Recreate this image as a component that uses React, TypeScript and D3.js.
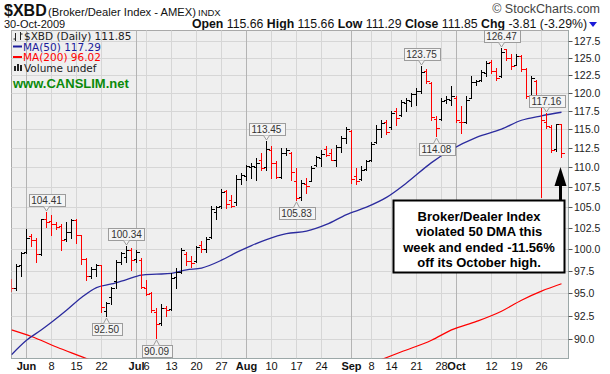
import React from "react";
import * as d3 from "d3";

// Daily bars, 27-May-2009 .. 30-Oct-2009 (bar index 0..110)
const opens = [
  96.2, 95.6, 98.1, 99.6, 101.5, 101.0, 99.4, 103.6, 103.3, 102.9,
  102.7, 101.2, 102.0, 103.4, 101.6, 98.8, 96.9, 97.7, 98.1, 93.0,
  94.6, 96.3, 98.5, 99.1, 99.9, 98.8, 98.7, 95.6, 95.0, 92.9,
  91.7, 93.3, 93.2, 96.8, 97.4, 99.4, 98.6, 98.6, 100.5, 100.0,
  101.4, 104.4, 105.2, 107.0, 105.9, 105.6, 108.5, 108.9, 110.0, 110.0,
  111.0, 110.0, 112.3, 110.5, 108.8, 111.8, 111.9, 108.3, 106.3, 107.9,
  108.3, 110.3, 111.2, 112.4, 111.9, 111.0, 112.6, 113.8, 114.7, 108.9,
  108.5, 109.8, 111.0, 113.3, 115.0, 116.0, 115.3, 117.4, 116.9, 118.5,
  118.9, 119.8, 120.2, 123.0, 121.4, 116.4, 116.4, 119.0, 119.0, 119.3,
  116.0, 116.0, 119.3, 121.5, 121.8, 122.8, 124.3, 123.0, 122.4, 126.2,
  125.0, 124.0, 125.3, 123.3, 119.5, 121.7, 119.2, 116.0, 115.3, 112.4,
  115.66,
];
const highs = [
  96.6, 98.3, 99.7, 102.4, 101.8, 101.3, 103.6, 104.41, 104.0, 103.2,
  103.0, 103.2, 103.6, 103.5, 101.7, 98.9, 97.9, 98.3, 98.2, 94.0,
  95.7, 98.7, 99.7, 100.34, 100.1, 99.9, 98.9, 96.5, 95.1, 93.3,
  93.8, 93.6, 97.2, 97.8, 100.1, 99.7, 99.2, 100.3, 100.9, 101.4,
  105.1, 105.1, 107.3, 107.1, 106.5, 109.0, 109.3, 110.3, 110.6, 111.2,
  111.8, 113.45, 112.7, 110.8, 112.5, 112.5, 112.0, 109.9, 108.4, 108.6,
  110.1, 111.4, 112.2, 112.7, 112.4, 112.9, 114.1, 115.3, 114.9, 109.9,
  110.1, 111.0, 113.3, 115.5, 116.2, 116.3, 117.5, 117.9, 119.0, 119.2,
  120.0, 120.6, 123.75, 123.4, 121.5, 116.8, 119.2, 119.5, 120.9, 119.6,
  118.2, 119.5, 122.3, 121.8, 123.2, 124.5, 124.7, 123.5, 126.47, 126.3,
  125.6, 125.6, 125.4, 123.5, 122.4, 121.8, 119.5, 117.16, 115.6, 115.7,
  115.66,
];
const lows = [
  95.2, 95.3, 96.9, 99.5, 100.3, 98.5, 99.3, 102.6, 101.6, 102.4,
  99.9, 100.9, 101.3, 100.7, 98.3, 96.5, 96.7, 96.9, 92.9, 92.5,
  93.8, 95.6, 98.3, 98.5, 97.6, 98.5, 95.6, 94.8, 92.9, 90.09,
  91.5, 92.5, 93.1, 95.5, 97.2, 98.1, 97.9, 98.5, 99.6, 99.6,
  101.3, 103.6, 104.9, 104.9, 105.0, 105.3, 107.9, 108.4, 108.6, 108.4,
  109.6, 109.6, 108.6, 108.6, 108.6, 111.6, 108.4, 105.83, 105.9, 106.7,
  108.2, 110.1, 110.1, 111.5, 110.9, 110.1, 112.0, 113.2, 108.0, 107.9,
  108.4, 109.6, 110.8, 113.2, 114.0, 114.4, 115.0, 115.5, 116.8, 117.4,
  118.2, 118.3, 120.0, 121.4, 116.2, 114.08, 116.3, 118.6, 118.3, 116.0,
  114.5, 115.8, 119.2, 121.1, 121.7, 122.4, 122.8, 121.8, 122.2, 124.6,
  123.3, 123.9, 123.0, 119.2, 118.6, 118.6, 106.2, 115.1, 112.0, 112.1,
  111.29,
];
const closes = [
  95.6, 98.0, 99.5, 101.3, 101.0, 99.4, 103.5, 103.2, 102.9, 102.6,
  101.1, 102.0, 103.4, 101.6, 98.8, 96.9, 97.7, 98.2, 93.5, 93.9,
  95.5, 98.5, 99.5, 99.9, 98.7, 99.6, 95.7, 94.9, 93.1, 91.6,
  93.4, 93.1, 96.7, 97.3, 99.9, 98.6, 98.4, 100.2, 100.0, 101.2,
  104.8, 105.0, 106.9, 105.4, 105.2, 108.5, 109.0, 110.1, 110.2, 110.5,
  109.9, 112.4, 110.5, 108.8, 111.9, 112.3, 109.4, 106.1, 108.0, 107.6,
  109.9, 111.3, 111.7, 111.6, 111.0, 112.6, 113.8, 115.0, 108.5, 108.3,
  109.6, 110.8, 113.0, 115.0, 115.8, 114.6, 117.2, 116.5, 118.7, 119.0,
  119.8, 120.2, 122.9, 121.7, 116.6, 115.2, 118.9, 119.1, 119.6, 116.3,
  115.9, 119.0, 121.5, 121.6, 122.9, 124.2, 123.0, 122.1, 125.9, 125.0,
  123.8, 125.3, 123.4, 119.6, 122.0, 119.1, 116.2, 115.4, 112.3, 115.66,
  111.85,
];

// Moving averages: [bar index, value]
const ma50: [number, number][] = [
  [0, 88.4], [3, 89.9], [6, 91.0], [8, 91.8], [11, 93.1], [14, 94.5], [17, 95.6],
  [20, 96.0], [23, 96.5], [26, 97.0], [29, 97.1], [32, 97.2], [35, 97.6], [38, 97.8],
  [42, 98.7], [45, 99.6], [48, 100.4], [51, 101.1], [55, 101.8], [59, 102.1],
  [63, 102.9], [67, 104.1], [71, 105.0], [75, 106.2], [79, 108.0], [84, 110.6],
  [88, 112.3], [93, 113.9], [98, 115.0], [102, 116.2], [106, 116.8], [110, 117.29],
];
const ma200Early: [number, number][] = [
  [0, 91.0], [4, 90.3], [9, 89.2], [14, 88.2], [16, 87.8],
];
const ma200Late: [number, number][] = [
  [74, 87.9], [78, 88.7], [84, 89.9], [88, 91.0], [93, 91.9], [98, 93.0],
  [102, 94.2], [106, 95.2], [110, 96.02],
];

const yTicks = [90, 92.5, 95, 97.5, 100, 102.5, 105, 107.5, 110, 112.5, 115, 117.5, 120, 122.5, 125, 127.5];

const xLabels: { k: number; text: string; month: boolean }[] = [
  { k: 3, text: "Jun", month: true },
  { k: 8, text: "8", month: false },
  { k: 13, text: "15", month: false },
  { k: 18, text: "22", month: false },
  { k: 25, text: "Jul", month: true },
  { k: 27, text: "6", month: false },
  { k: 32, text: "13", month: false },
  { k: 37, text: "20", month: false },
  { k: 42, text: "27", month: false },
  { k: 47, text: "Aug", month: true },
  { k: 52, text: "10", month: false },
  { k: 57, text: "17", month: false },
  { k: 62, text: "24", month: false },
  { k: 68, text: "Sep", month: true },
  { k: 72, text: "8", month: false },
  { k: 76, text: "14", month: false },
  { k: 81, text: "21", month: false },
  { k: 86, text: "28", month: false },
  { k: 89, text: "Oct", month: true },
  { k: 96, text: "12", month: false },
  { k: 101, text: "19", month: false },
  { k: 106, text: "26", month: false },
];

const callouts: { k: number; text: string; above: boolean }[] = [
  { k: 7, text: "104.41", above: true },
  { k: 19, text: "92.50", above: false },
  { k: 23, text: "100.34", above: true },
  { k: 29, text: "90.09", above: false },
  { k: 51, text: "113.45", above: true },
  { k: 57, text: "105.83", above: false },
  { k: 82, text: "123.75", above: true },
  { k: 85, text: "114.08", above: false },
  { k: 98, text: "126.47", above: true },
  { k: 107, text: "117.16", above: true },
];

const noteLines = ["Broker/Dealer Index", "violated 50 DMA this", "week and ended -11.56%", "off its October high."];

const SANS = "'Liberation Sans', Arial, sans-serif";
const VERD = "'DejaVu Sans', Verdana, sans-serif";

export default function App() {
  const left = 11.5, right = 568.5, top = 30.5, bottom = 358.5;
  const x = d3.scaleLinear().domain([0, 110]).range([11.5, 561.5]);
  const y = d3.scaleLog().domain([88.06, 129.1]).range([358, 30]);
  const ry = (v: number) => Math.round(y(v)) + 0.5;

  const line = d3
    .line<[number, number]>()
    .x((d) => x(d[0]))
    .y((d) => y(d[1]))
    .curve(d3.curveMonotoneX);

  const bars = closes.map((c, k) => {
    const cx = x(k);
    const red = k === 0 ? c < opens[k] : c < closes[k - 1];
    const yh = Math.round(y(highs[k]));
    const yl = Math.round(y(lows[k])) + 1;
    const yo = ry(opens[k]);
    const yc = ry(c);
    const d = `M${cx},${yh}V${yl}M${cx - 3},${yo}H${cx}M${cx},${yc}H${cx + 3}`;
    return <path key={k} d={d} stroke={red ? "#ff0000" : "#000"} strokeWidth={1} fill="none" />;
  });

  const textW = (s: string) => s.split("").reduce((a, ch) => a + (ch === "." ? 2.8 : 5.6), 0);

  return (
    <svg
      width={610}
      height={374}
      style={{ position: "absolute", left: 0, top: 0, background: "#fff" }}
      fontFamily={SANS}
    >
      <defs>
        <clipPath id="plotClip">
          <rect x={left} y={top} width={right - left} height={bottom - top} />
        </clipPath>
      </defs>

      {/* header */}
      <text x={4} y={16} fontSize={16} fontWeight="bold" fill="#111">$XBD</text>
      <text x={48} y={15.5} fontSize={11.2} fill="#111">(Broker/Dealer Index - AMEX)</text>
      <text x={198} y={15.5} fontSize={9.5} fill="#111">INDX</text>
      <text x={600} y={13} fontSize={12.5} textAnchor="end" fill="#444">© StockCharts.com</text>
      <text x={4} y={28} fontSize={11} fill="#111">30-Oct-2009</text>
      <text x={587} y={28} fontSize={12.3} textAnchor="end" fill="#111">
        <tspan fontWeight="bold">Open</tspan> 115.66 <tspan fontWeight="bold">High</tspan> 115.66{" "}
        <tspan fontWeight="bold">Low</tspan> 111.29 <tspan fontWeight="bold">Close</tspan> 111.85{" "}
        <tspan fontWeight="bold">Chg</tspan> -3.81 (-3.29%)
      </text>
      <polygon points="589,22 597,22 593,27" fill="#1a1ad8" />

      {/* plot background */}
      <rect x={left} y={top} width={right - left} height={bottom - top} fill="#efefef" stroke="#a9a9a9" />

      {/* grid */}
      {yTicks.map((t) => (
        <line key={"hg" + t} x1={left} x2={right} y1={ry(t)} y2={ry(t)} stroke="#d6d6d6" />
      ))}
      {xLabels.map((l) => (
        <line
          key={"vg" + l.k}
          x1={x(l.k)}
          x2={x(l.k)}
          y1={top}
          y2={bottom}
          stroke={l.month ? "#b4b4b4" : "#d6d6d6"}
        />
      ))}

      {/* legend */}
      <g fontFamily={VERD} fontSize={10.5}>
        <path d="M15.5,33V41M13.5,39H15.5M20.5,32V40M20.5,34H22.5" stroke="#222" fill="none" />
        <text x={24} y={40} fill="#222">$XBD (Daily) 111.85</text>
        <line x1={13} x2={22} y1={46.5} y2={46.5} stroke="#1c1c9c" strokeWidth={2} />
        <text x={23} y={50.5} fill="#1c1c9c">MA(50) 117.29</text>
        <line x1={13} x2={22} y1={57} y2={57} stroke="#ff0000" strokeWidth={2} />
        <text x={23} y={61} fill="#ff0000">MA(200) 96.02</text>
        <rect x={14} y={66} width={2} height={5} fill="#222" />
        <rect x={17} y={64} width={2} height={7} fill="#222" />
        <rect x={20} y={65} width={2} height={6} fill="#222" />
        <text x={24} y={71.5} fill="#222">Volume undef</text>
      </g>
      <text x={13} y={88} fontSize={13} fontWeight="bold" fill="#0a8a0a">www.CANSLIM.net</text>

      <g clipPath="url(#plotClip)">
        {/* moving averages */}
        <path d={line(ma200Early) || ""} fill="none" stroke="#ff0000" strokeWidth={1.2} />
        <path d={line(ma200Late) || ""} fill="none" stroke="#ff0000" strokeWidth={1.2} />
        <path d={line(ma50) || ""} fill="none" stroke="#2b2b9e" strokeWidth={1.3} />
        {/* OHLC bars */}
        <g shapeRendering="crispEdges">{bars}</g>
      </g>

      {/* callouts */}
      {callouts.map((c) => {
        const cx = x(c.k);
        const w = Math.round(textW(c.text) + 5);
        const h = 12;
        const bx = Math.round(cx - w / 2) + 0.5;
        if (c.above) {
          const vy = Math.round(y(highs[c.k]));
          const by2 = vy - 6;
          const by1 = by2 - h;
          return (
            <g key={"co" + c.k}>
              <rect x={bx} y={by1 + 0.5} width={w} height={h} fill="#f4f4f4" stroke="#9c9c9c" />
              <polyline points={`${cx - 3},${by2 + 0.5} ${cx},${vy - 1} ${cx + 3},${by2 + 0.5}`} fill="#f4f4f4" stroke="#9c9c9c" />
              <text x={cx} y={by2 - 2.5} fontSize={10} textAnchor="middle" fill="#333">{c.text}</text>
            </g>
          );
        }
        const vy = Math.round(y(lows[c.k])) + 1;
        const by1 = vy + 6;
        return (
          <g key={"co" + c.k}>
            <rect x={bx} y={by1 + 0.5} width={w} height={h} fill="#f4f4f4" stroke="#9c9c9c" />
            <polyline points={`${cx - 3},${by1 + 0.5} ${cx},${vy + 1} ${cx + 3},${by1 + 0.5}`} fill="#f4f4f4" stroke="#9c9c9c" />
            <text x={cx} y={by1 + h - 2} fontSize={10} textAnchor="middle" fill="#333">{c.text}</text>
          </g>
        );
      })}

      {/* axes */}
      <line x1={right} x2={right} y1={top} y2={bottom} stroke="#8fa6a6" strokeDasharray="1,1" />
      <line x1={left} x2={right} y1={bottom} y2={bottom} stroke="#8fa6a6" strokeDasharray="1,1" />
      {yTicks.map((t) => (
        <g key={"yt" + t}>
          <line x1={right} x2={right + 4} y1={ry(t)} y2={ry(t)} stroke="#555" />
          <text x={574} y={ry(t) + 3.5} fontSize={10.5} fill="#222">{d3.format(".1f")(t)}</text>
        </g>
      ))}
      {xLabels.map((l) => (
        <text
          key={"xl" + l.k}
          x={x(l.k)}
          y={370}
          fontSize={11}
          fontWeight={l.month ? "bold" : "normal"}
          textAnchor="middle"
          fill="#111"
        >
          {l.text}
        </text>
      ))}

      {/* annotation */}
      <rect x={393.5} y={200.5} width={171} height={72} fill="#fff" stroke="#000" strokeWidth={2} />
      {noteLines.map((s, i) => (
        <text key={"nl" + i} x={479} y={220.5 + i * 15.5} fontSize={13} fontWeight="bold" textAnchor="middle" fill="#000">
          {s}
        </text>
      ))}
      <polygon points="560.5,167 554.5,186 566.5,186" fill="#000" />
      <rect x={559} y={185} width={3} height={15} fill="#000" />
    </svg>
  );
}
